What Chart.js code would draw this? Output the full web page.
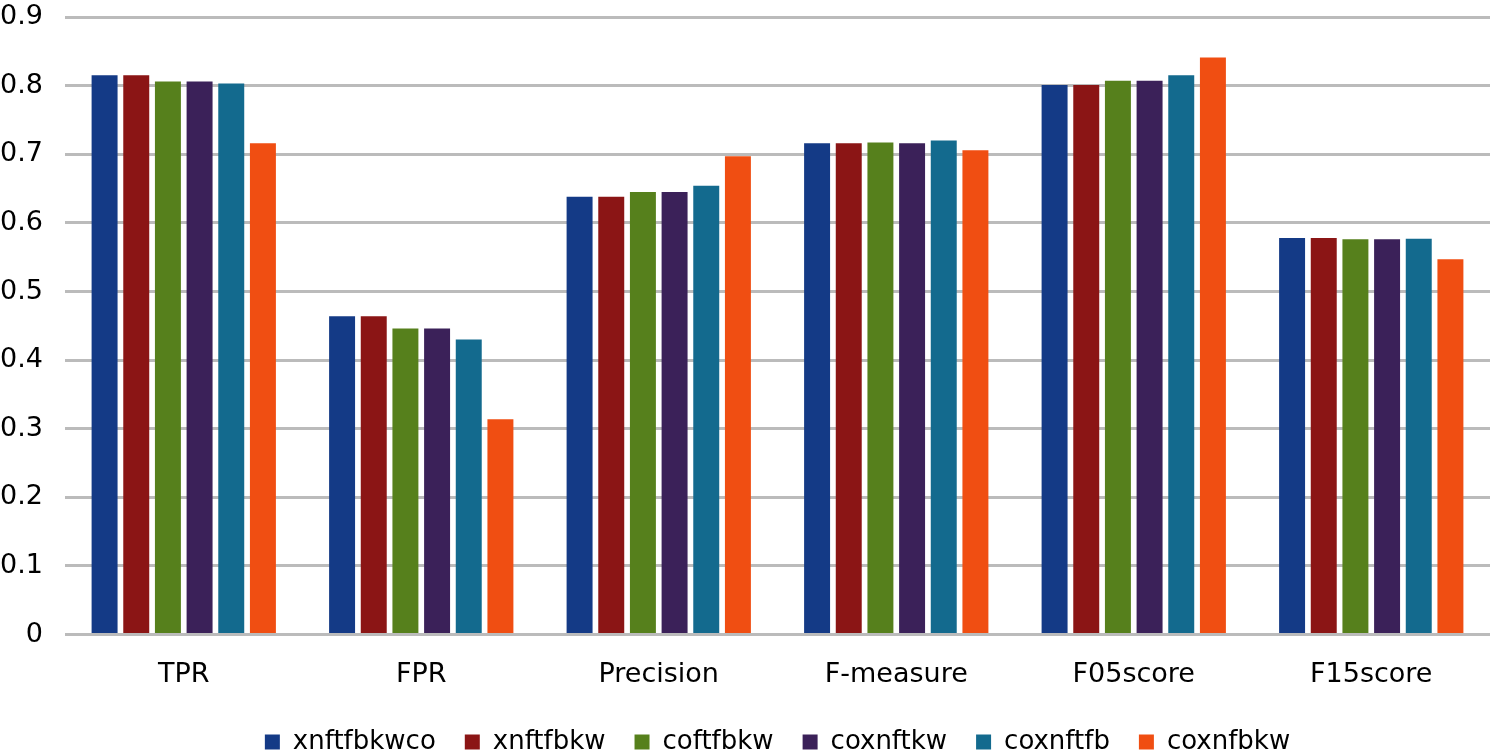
<!DOCTYPE html>
<html>
<head>
<meta charset="utf-8">
<script src="https://cdn.jsdelivr.net/npm/chart.js@4.4.1/dist/chart.umd.min.js"></script>
<style>
  html, body { margin: 0; padding: 0; background: #fff; }
  #wrap { width: 1490px; height: 755px; }
</style>
</head>
<body>
<div id="wrap"><canvas id="barChart"></canvas></div>
<script>
// Metrics per method
const categories = ['TPR', 'FPR', 'Precision', 'F-measure', 'F05score', 'F15score'];
const seriesNames = ['xnftfbkwco', 'xnftfbkw', 'coftfbkw', 'coxnftkw', 'coxnftfb', 'coxnfbkw'];
const xnftfbkwco = [0.815, 0.464, 0.638, 0.716, 0.801, 0.578];
const xnftfbkw   = [0.815, 0.464, 0.638, 0.716, 0.801, 0.578];
const coftfbkw   = [0.806, 0.446, 0.645, 0.717, 0.807, 0.576];
const coxnftkw   = [0.806, 0.446, 0.645, 0.716, 0.807, 0.576];
const coxnftfb   = [0.803, 0.430, 0.654, 0.720, 0.815, 0.577];
const coxnfbkw   = [0.716, 0.314, 0.697, 0.706, 0.841, 0.547];
const yTicks = [0, 0.1, 0.2, 0.3, 0.4, 0.5, 0.6, 0.7, 0.8, 0.9];

const colors = ['#143A86', '#8B1515', '#56801C', '#3B2159', '#136A8E', '#F04E12'];
const allSeries = [xnftfbkwco, xnftfbkw, coftfbkw, coxnftkw, coxnftfb, coxnfbkw];

document.addEventListener('DOMContentLoaded', function () {
    const ctx = document.getElementById('barChart').getContext('2d');
    const axisFont = { family: '"DejaVu Sans", sans-serif', size: 27 };
    const legendFont = { family: '"DejaVu Sans", sans-serif', size: 26 };

    new Chart(ctx, {
        type: 'bar',
        data: {
            labels: categories,
            datasets: allSeries.map((vals, i) => ({
                label: seriesNames[i],
                data: vals,
                backgroundColor: colors[i],
                borderWidth: 0,
                categoryPercentage: 0.8,
                barPercentage: 0.82
            }))
        },
        options: {
            responsive: true,
            maintainAspectRatio: false,
            animation: false,
            layout: { padding: { top: 17, right: 0, left: 0, bottom: -10 } },
            scales: {
                x: {
                    grid: { display: false },
                    border: { display: false },
                    ticks: { color: '#000', font: axisFont, padding: 16 },
                    afterFit: axis => { axis.height -= 7; }
                },
                y: {
                    min: 0,
                    max: 0.9,
                    afterBuildTicks: axis => { axis.ticks = yTicks.map(v => ({ value: v })); },
                    afterFit: axis => {
                        axis.width = 65;
                        axis.paddingTop = 0;
                        axis.paddingBottom = 0;
                    },
                    grid: { color: '#BBBBBB', lineWidth: 3, drawTicks: false },
                    border: { display: false },
                    ticks: {
                        color: '#000',
                        font: axisFont,
                        padding: 22,
                        callback: v => String(+v.toFixed(1))
                    }
                }
            },
            plugins: {
                legend: {
                    position: 'bottom',
                    fullSize: false,
                    labels: {
                        color: '#000',
                        font: legendFont,
                        boxWidth: 15,
                        boxHeight: 15,
                        padding: 29
                    }
                },
                tooltip: { enabled: false }
            }
        }
    });
});
</script>
</body>
</html>
